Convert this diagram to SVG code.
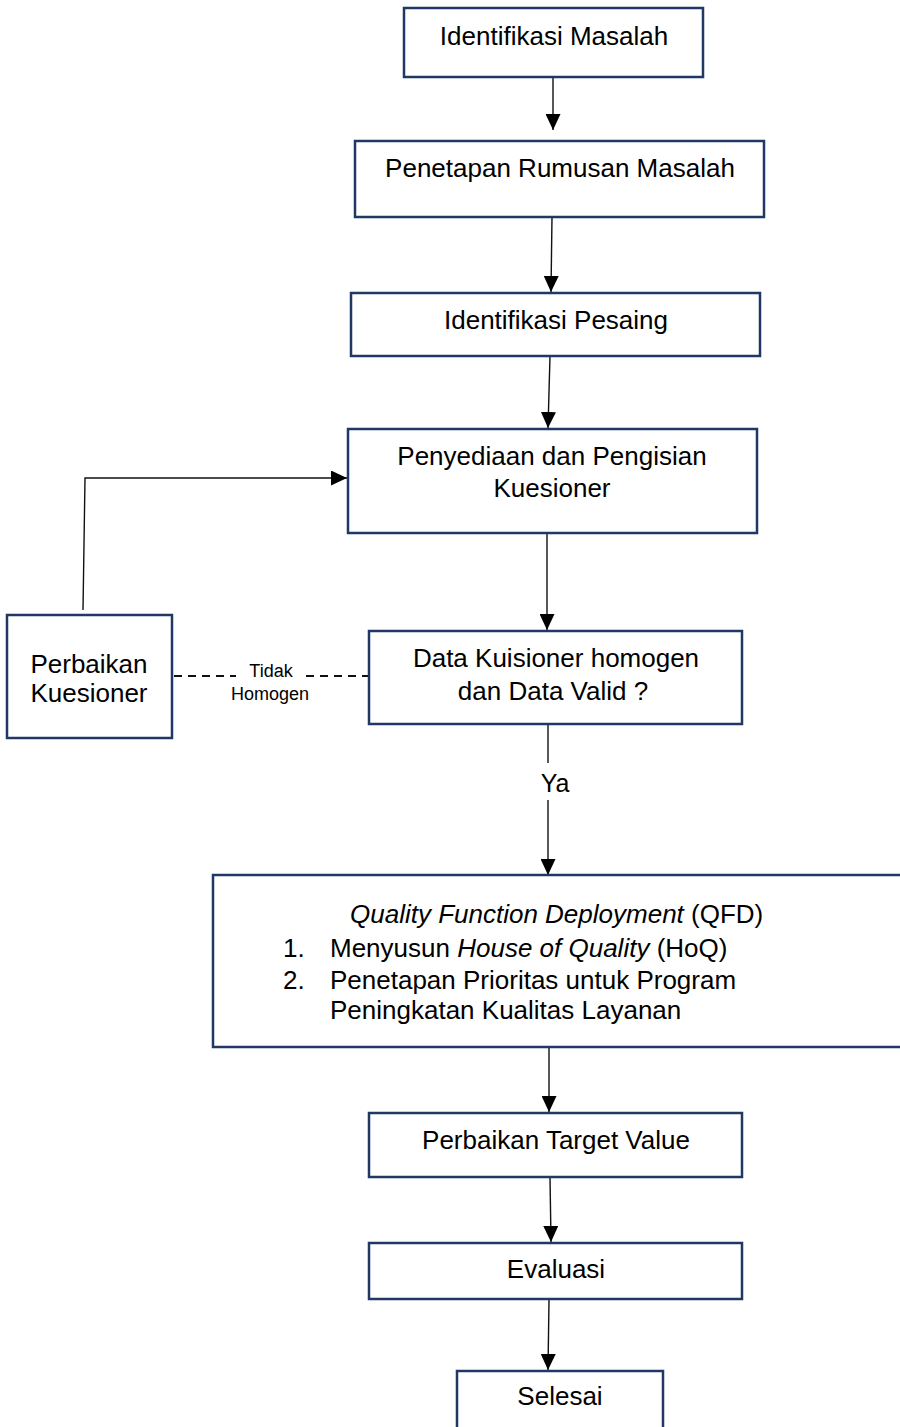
<svg xmlns="http://www.w3.org/2000/svg" width="900" height="1427" viewBox="0 0 900 1427">
<style>
  .box { fill: #ffffff; stroke: #1f3864; stroke-width: 2.5; }
  .t { font-family: "Liberation Sans", Arial, sans-serif; font-size: 26px; fill: #000; }
  .c { text-anchor: middle; }
  .small { font-family: "Liberation Sans", Arial, sans-serif; font-size: 18px; fill: #000; text-anchor: middle; }
  .conn { fill: none; stroke: #111; stroke-width: 1.4; }
  .dash { fill: none; stroke: #111; stroke-width: 2; stroke-dasharray: 8 6; }
</style>
<defs>
  <marker id="arr" markerUnits="userSpaceOnUse" markerWidth="16" markerHeight="15" refX="16" refY="7.5" orient="auto">
    <path d="M0,0 L16,7.5 L0,15 z" fill="#000"/>
  </marker>
</defs>
<rect width="900" height="1427" fill="#ffffff"/>

<g id="connectors">
  <line class="conn" x1="553" y1="77" x2="553" y2="130" marker-end="url(#arr)"/>
  <line class="conn" x1="552" y1="217" x2="551" y2="292" marker-end="url(#arr)"/>
  <line class="conn" x1="550" y1="356" x2="548" y2="428" marker-end="url(#arr)"/>
  <line class="conn" x1="547" y1="533" x2="547" y2="630" marker-end="url(#arr)"/>
  <line class="conn" x1="548" y1="724" x2="548" y2="763"/>
  <line class="conn" x1="548" y1="800" x2="548" y2="875" marker-end="url(#arr)"/>
  <line class="conn" x1="549" y1="1047" x2="549" y2="1112" marker-end="url(#arr)"/>
  <line class="conn" x1="550" y1="1177" x2="551" y2="1242" marker-end="url(#arr)"/>
  <line class="conn" x1="549" y1="1300" x2="548" y2="1370" marker-end="url(#arr)"/>
  <path class="conn" d="M83,610 L85,478 L347,478" marker-end="url(#arr)"/>
  <line class="dash" x1="174" y1="676" x2="236" y2="676"/>
  <line class="dash" x1="306" y1="676" x2="369" y2="676"/>
  <text class="small" x="271" y="677">Tidak</text>
  <text class="small" x="270" y="700">Homogen</text>
  <text class="t c" x="555" y="792" style="font-size:25px">Ya</text>
</g>

<g id="n1">
  <rect class="box" x="404" y="8" width="299" height="69"/>
  <text class="t c" x="554" y="45">Identifikasi Masalah</text>
</g>
<g id="n2">
  <rect class="box" x="355" y="141" width="409" height="76"/>
  <text class="t c" x="560" y="177">Penetapan Rumusan Masalah</text>
</g>
<g id="n3">
  <rect class="box" x="351" y="293" width="409" height="63"/>
  <text class="t c" x="556" y="329">Identifikasi Pesaing</text>
</g>
<g id="n4">
  <rect class="box" x="348" y="429" width="409" height="104"/>
  <text class="t c" x="552" y="465">Penyediaan dan Pengisian</text>
  <text class="t c" x="552" y="497">Kuesioner</text>
</g>
<g id="n5">
  <rect class="box" x="7" y="615" width="165" height="123"/>
  <text class="t c" x="89" y="673">Perbaikan</text>
  <text class="t c" x="89" y="702">Kuesioner</text>
</g>
<g id="n6">
  <rect class="box" x="369" y="631" width="373" height="93"/>
  <text class="t c" x="556" y="667">Data Kuisioner homogen</text>
  <text class="t c" x="553" y="700">dan Data Valid ?</text>
</g>
<g id="n7">
  <rect class="box" x="213" y="875" width="700" height="172"/>
  <text class="t" x="350" y="923"><tspan font-style="italic">Quality Function Deployment</tspan> (QFD)</text>
  <text class="t" x="283" y="957">1.</text>
  <text class="t" x="330" y="957">Menyusun <tspan font-style="italic">House of Quality</tspan> (HoQ)</text>
  <text class="t" x="283" y="989">2.</text>
  <text class="t" x="330" y="989">Penetapan Prioritas untuk Program</text>
  <text class="t" x="330" y="1019">Peningkatan Kualitas Layanan</text>
</g>
<g id="n8">
  <rect class="box" x="369" y="1113" width="373" height="64"/>
  <text class="t c" x="556" y="1149">Perbaikan Target Value</text>
</g>
<g id="n9">
  <rect class="box" x="369" y="1243" width="373" height="56"/>
  <text class="t c" x="556" y="1278">Evaluasi</text>
</g>
<g id="n10">
  <rect class="box" x="457" y="1371" width="206" height="70"/>
  <text class="t c" x="560" y="1405">Selesai</text>
</g>
</svg>
